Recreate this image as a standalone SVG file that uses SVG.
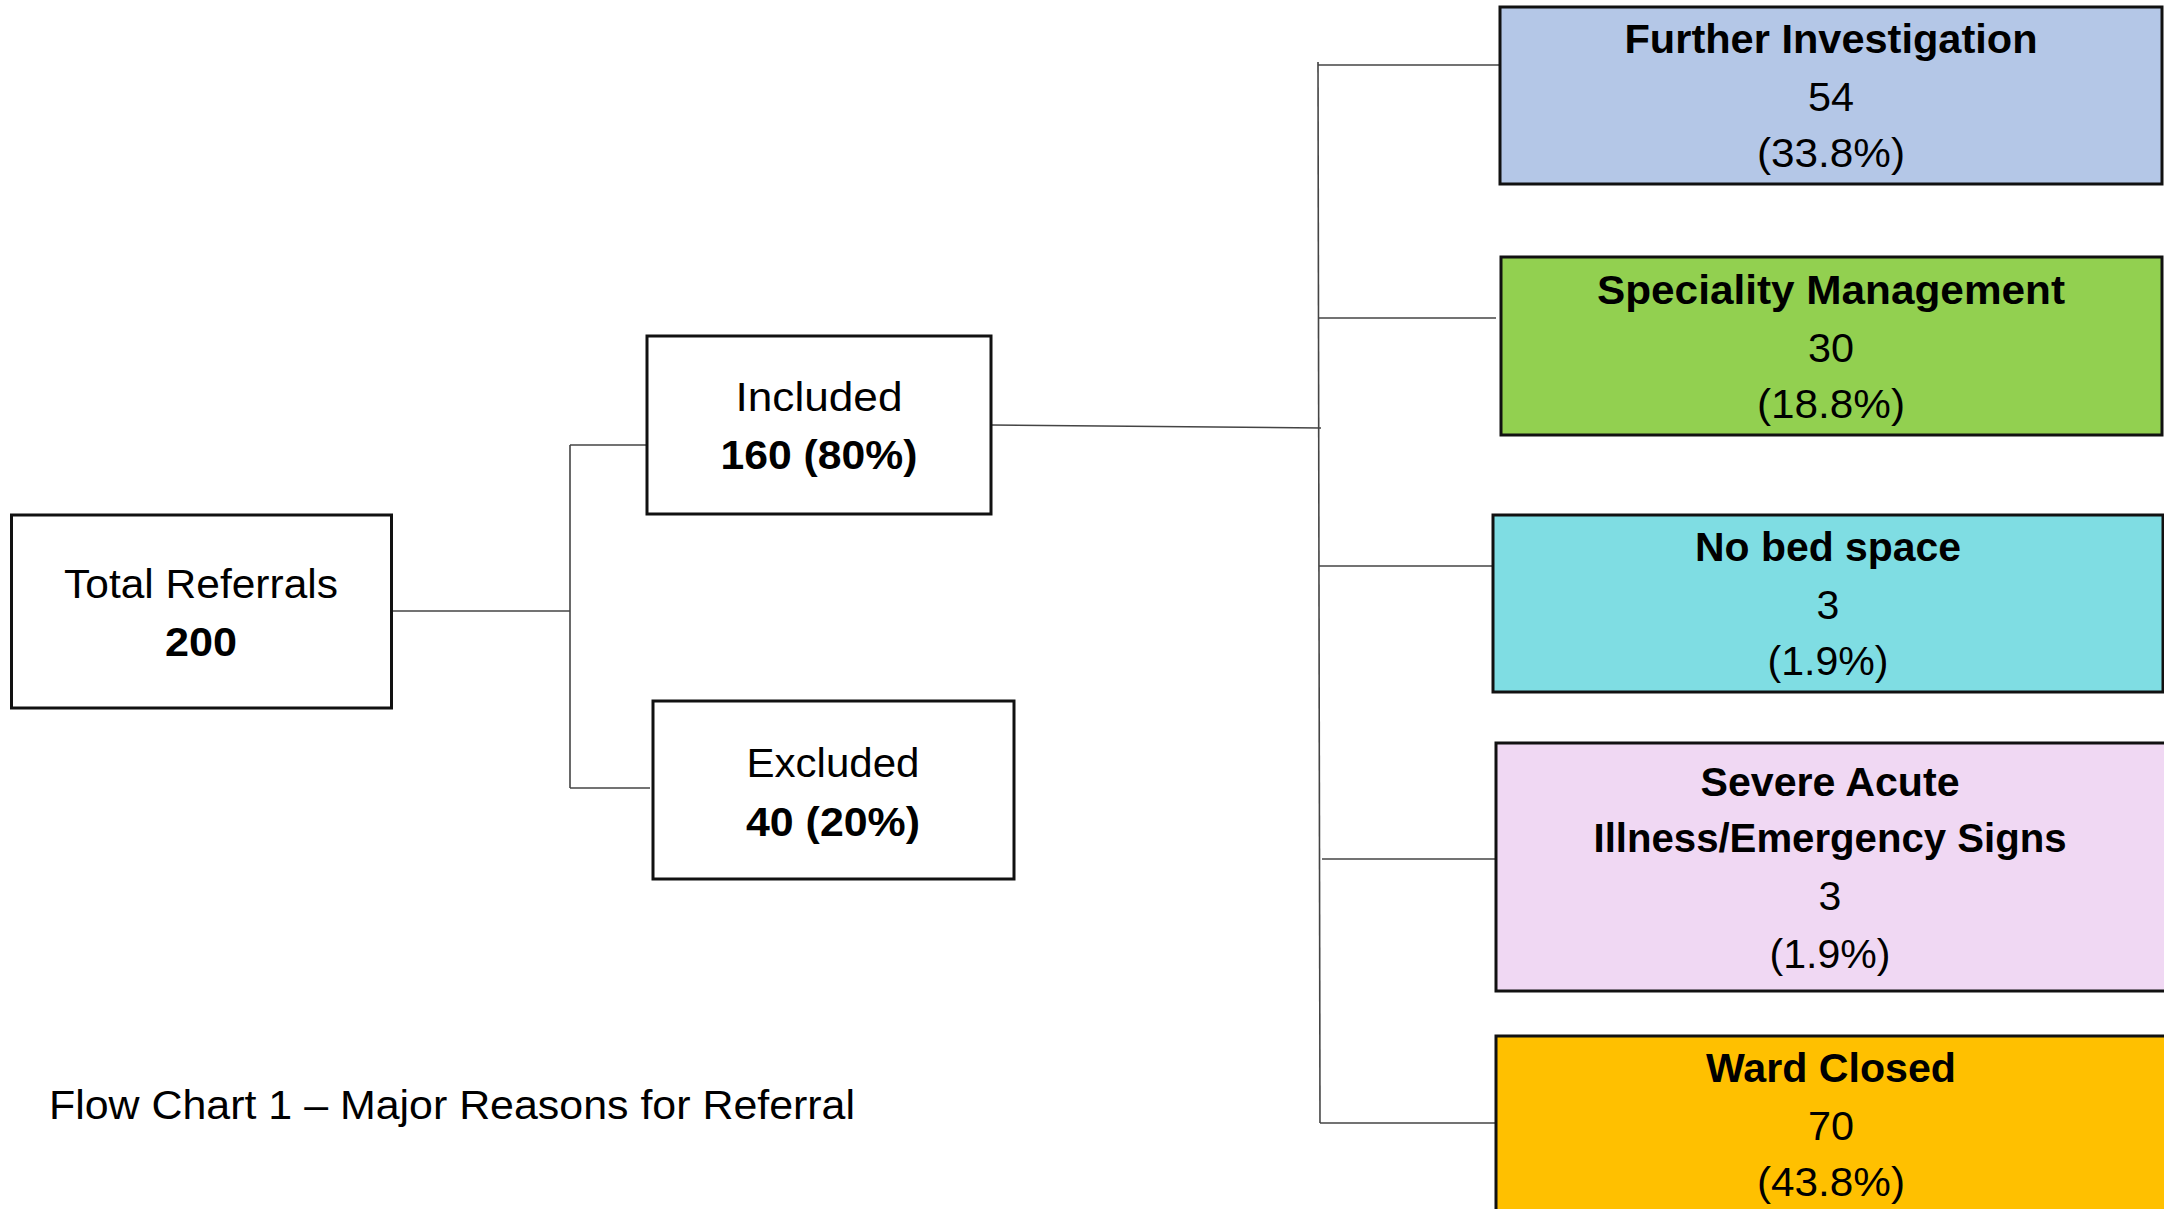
<svg xmlns="http://www.w3.org/2000/svg" width="2164" height="1209" viewBox="0 0 2164 1209">
<style>
.box{stroke:#111;stroke-width:3;}
.w{fill:#fff;}
.t{font-family:"Liberation Sans",Arial,sans-serif;font-size:41px;fill:#000;text-anchor:middle;}
.b{font-weight:bold;}
.c{fill:none;stroke:#444;stroke-width:1.6;}
</style>
<rect width="2164" height="1209" fill="#fff"/>
<g id="connectors">
<path class="c" d="M392,611 H570"/>
<path class="c" d="M570,445 V788"/>
<path class="c" d="M570,445 H647"/>
<path class="c" d="M570,788 H650"/>
<path class="c" d="M991,425 L1321,428"/>
<path class="c" d="M1318,62 L1320,1123"/>
<path class="c" d="M1318,65 H1499"/>
<path class="c" d="M1318,318 H1496"/>
<path class="c" d="M1319,566 H1493"/>
<path class="c" d="M1322,859 H1496"/>
<path class="c" d="M1320,1123 H1496"/>
</g>
<g id="total">
<rect class="box w" x="11.5" y="515" width="380" height="193"/>
<text class="t" x="201" y="598" textLength="274" lengthAdjust="spacingAndGlyphs">Total Referrals</text>
<text class="t b" x="201" y="656" textLength="72" lengthAdjust="spacingAndGlyphs">200</text>
</g>
<g id="included">
<rect class="box w" x="647" y="336" width="344" height="178"/>
<text class="t" x="819" y="411" textLength="167" lengthAdjust="spacingAndGlyphs">Included</text>
<text class="t b" x="819" y="469" textLength="197" lengthAdjust="spacingAndGlyphs">160 (80%)</text>
</g>
<g id="excluded">
<rect class="box w" x="653" y="701" width="361" height="178"/>
<text class="t" x="833" y="777" textLength="173" lengthAdjust="spacingAndGlyphs">Excluded</text>
<text class="t b" x="833" y="836" textLength="174" lengthAdjust="spacingAndGlyphs">40 (20%)</text>
</g>
<g id="further">
<rect class="box" fill="#B4C7E7" x="1500" y="7" width="662" height="177"/>
<text class="t b" x="1831" y="53" textLength="413" lengthAdjust="spacingAndGlyphs">Further Investigation</text>
<text class="t" x="1831" y="111" textLength="46" lengthAdjust="spacingAndGlyphs">54</text>
<text class="t" x="1831" y="167" textLength="148" lengthAdjust="spacingAndGlyphs">(33.8%)</text>
</g>
<g id="speciality">
<rect class="box" fill="#92D050" x="1501" y="257" width="661" height="178"/>
<text class="t b" x="1831" y="304" textLength="468" lengthAdjust="spacingAndGlyphs">Speciality Management</text>
<text class="t" x="1831" y="362" textLength="46" lengthAdjust="spacingAndGlyphs">30</text>
<text class="t" x="1831" y="418" textLength="148" lengthAdjust="spacingAndGlyphs">(18.8%)</text>
</g>
<g id="nobed">
<rect class="box" fill="#7FDDE3" x="1493" y="515" width="670" height="177"/>
<text class="t b" x="1828" y="561" textLength="266" lengthAdjust="spacingAndGlyphs">No bed space</text>
<text class="t" x="1828" y="619">3</text>
<text class="t" x="1828" y="675" textLength="121" lengthAdjust="spacingAndGlyphs">(1.9%)</text>
</g>
<g id="severe">
<rect class="box" fill="#F0D8F3" x="1496" y="743" width="680" height="248"/>
<text class="t b" x="1830" y="796" textLength="259" lengthAdjust="spacingAndGlyphs">Severe Acute</text>
<text class="t b" x="1830" y="852" textLength="473" lengthAdjust="spacingAndGlyphs">Illness/Emergency Signs</text>
<text class="t" x="1830" y="910">3</text>
<text class="t" x="1830" y="968" textLength="121" lengthAdjust="spacingAndGlyphs">(1.9%)</text>
</g>
<g id="ward">
<rect class="box" fill="#FFC000" x="1496" y="1036" width="680" height="200"/>
<text class="t b" x="1831" y="1082" textLength="250" lengthAdjust="spacingAndGlyphs">Ward Closed</text>
<text class="t" x="1831" y="1140" textLength="46" lengthAdjust="spacingAndGlyphs">70</text>
<text class="t" x="1831" y="1196" textLength="148" lengthAdjust="spacingAndGlyphs">(43.8%)</text>
</g>
<g id="caption">
<text class="t" x="452" y="1119" textLength="806" lengthAdjust="spacingAndGlyphs">Flow Chart 1 – Major Reasons for Referral</text>
</g>
</svg>
